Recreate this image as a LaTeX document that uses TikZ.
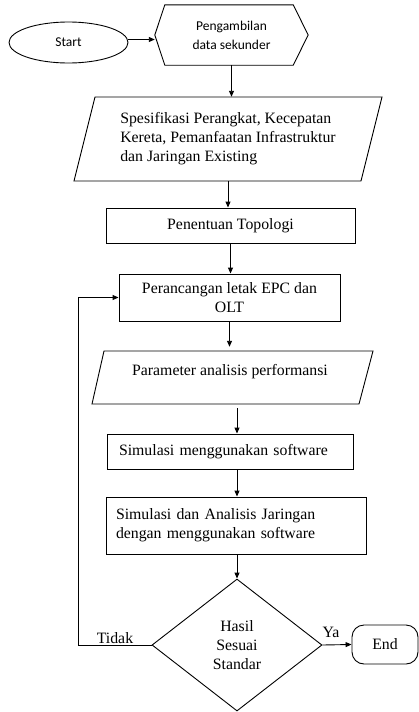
\documentclass[tikz,border=0pt]{standalone}
\usepackage{fontspec}
\setmainfont{Liberation Serif}
\newfontfamily\calib{Carlito}
\usetikzlibrary{shapes.geometric,arrows.meta,calc}
\begin{document}
\begin{tikzpicture}[x=1pt,y=-1pt,
  every node/.style={font=\fontsize{15.8}{19}\selectfont, text=black},
  ln/.style={draw=black, line width=0.9pt},
  arr/.style={ln, -{Triangle[length=6pt,width=5pt]}},
  box/.style={ln, rectangle, inner sep=0pt},
  sans/.style={font=\calib\fontsize{13.5}{19}\selectfont},
  plain/.style={inner sep=0pt}
]
\fill[white] (0,0) rectangle (419,712);
\useasboundingbox (0,0) rectangle (419,712);

% Start
\node[ln, ellipse, sans, minimum width=119pt, minimum height=41pt, inner sep=0pt] (start) at (68.5,42.5) {Start};

% Hexagon
\node[plain, sans, minimum width=153pt, minimum height=60pt, align=center] (hex) at (231.5,35) {Pengambilan\\data sekunder};
\draw[ln] (hex.west) -- ([xshift=10pt]hex.north west) -- ([xshift=-15pt]hex.north east) -- (hex.east) -- ([xshift=-15pt]hex.south east) -- ([xshift=10pt]hex.south west) -- cycle;

% Parallelogram 1
\node[plain, minimum height=84pt, align=left] (p1) at (228,139) {Spesifikasi Perangkat, Kecepatan\\Kereta, Pemanfaatan Infrastruktur\\dan Jaringan Existing};
\draw[ln] (95,97) -- (382,97) -- (361,181) -- (74,181) -- cycle;

% Boxes
\node[box, minimum width=249pt, minimum height=35pt] (b1) at (230.5,225.5) {Penentuan Topologi};
\node[box, minimum width=221pt, minimum height=47pt, align=center] (b2) at (229.5,297.5) {Perancangan letak EPC dan\\OLT};

% Parallelogram 2
\node[plain, minimum width=270pt, minimum height=61pt] (p2) at (232,377.5) {};
\node[plain] (p2t) at (230,372) {Parameter analisis performansi};
\draw[ln] (104,351) -- (373,351) -- (359,404) -- (92,404) -- cycle;

\node[box, minimum height=35pt, text width=222pt, inner xsep=12pt, align=left] (sim) at (230,451.5) {Simulasi menggunakan software};
\node[box, minimum height=57pt, text width=240pt, inner xsep=10pt, align=left] (sim2) at (236,525.5) {Simulasi dan Analisis Jaringan\\dengan menggunakan software};

% Decision
\node[ln, diamond, minimum width=170pt, minimum height=132pt, inner sep=0pt, align=center] (dia) at (237,645) {Hasil\\Sesuai\\Standar};
\node[ln, rectangle, rounded corners=12pt, minimum width=66pt, minimum height=39pt] (fin) at (385,644.5) {End};

% Connectors
\coordinate (s1) at ([yshift=3pt]start.east);
\draw[arr] (s1) -- (s1 -| hex.west);
\draw[arr] (hex.south) -- (hex.south |- p1.north);
\draw[arr] (p1.south) -- (p1.south |- b1.north);
\draw[arr] (b1.south) -- (b1.south |- b2.north);
\draw[arr] (b2.south) -- (b2.south |- p2.north);
\draw[arr] (p2.south -| dia.north) -- (sim.north -| dia.north);
\draw[arr] (sim.south -| dia.north) -- (sim2.north -| dia.north);
\draw[arr] (sim2.south -| dia.north) -- (dia.north);
\coordinate (fb) at (78,645);
\draw[arr] (dia.west) -- (fb) |- (b2.west);
\draw[arr] (dia.east) -- (fin.west);

\node[plain] (tidak) at (115,638) {Tidak};
\node[plain] (ya) at (331,632) {Ya};
\end{tikzpicture}
\end{document}
